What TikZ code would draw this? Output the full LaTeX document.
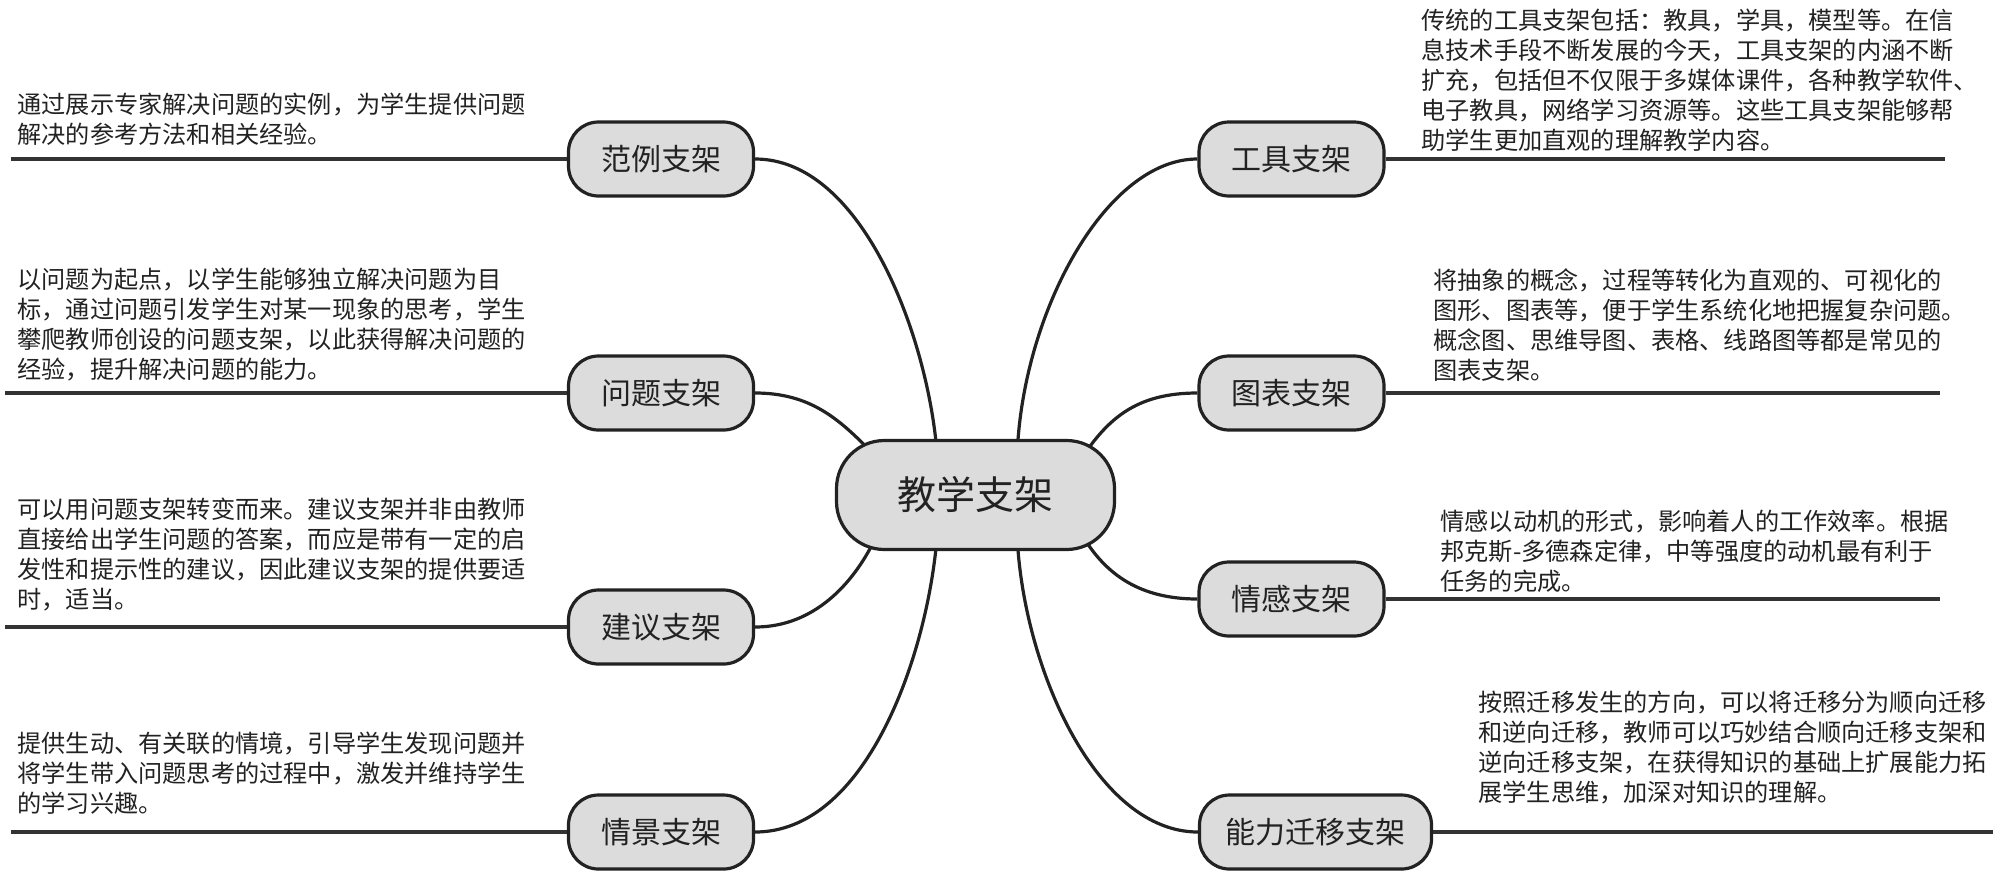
\documentclass[tikz,border=0pt]{standalone}
\usepackage{fontspec}
\setmainfont{Noto Sans CJK SC}
\usetikzlibrary{calc,backgrounds}
\definecolor{nodefill}{HTML}{DCDCDC}
\definecolor{ink}{HTML}{222222}
\begin{document}
\begin{tikzpicture}[x=0.5pt,y=-0.5pt,
  branch/.style={draw=ink, line width=1.6pt, fill=nodefill, rounded corners=15pt, minimum width=92.5pt, minimum height=37pt, inner sep=0pt, font=\fontsize{15}{18}\selectfont, text=ink},
  hub/.style={draw=ink, line width=1.6pt, fill=nodefill, rounded corners=24pt, minimum width=139pt, minimum height=54.5pt, inner sep=0pt, font=\fontsize{19.5}{23}\selectfont, text=ink},
  link/.style={draw=ink, line width=1.6pt},
  rule/.style={draw=black!80, line width=1.6pt},
  desc/.style={anchor=west, inner sep=0pt, align=left, font=\fontsize{12.1}{15}\selectfont, text=ink}]
\useasboundingbox (0,0) rectangle (2000,884);

% hub
\node[hub] (c) at (975.5,495) {教学支架};

% left branches
\node[branch] (fanli) at (661,159) {范例支架};
\node[branch] (wenti) at (661,393) {问题支架};
\node[branch] (jianyi) at (661,627) {建议支架};
\node[branch] (qingjing) at (661,832) {情景支架};

% right branches
\node[branch] (gongju) at (1291.5,159) {工具支架};
\node[branch] (tubiao) at (1291.5,393) {图表支架};
\node[branch] (qinggan) at (1291.5,599) {情感支架};
\node[branch, minimum width=116pt] (nengli) at (1315.5,832) {能力迁移支架};

% free ends of the rules
\coordinate (l1) at (11,159);
\coordinate (l2) at (5,393);
\coordinate (l3) at (5,627);
\coordinate (l4) at (11,832);
\coordinate (r1) at (1945,159);
\coordinate (r2) at (1940,393);
\coordinate (r3) at (1940,599);
\coordinate (r4) at (1993,832);

\begin{pgfonlayer}{background}
  \draw[rule] (l1) -- (fanli.west);
  \draw[rule] (l2) -- (wenti.west);
  \draw[rule] (l3) -- (jianyi.west);
  \draw[rule] (l4) -- (qingjing.west);
  \draw[rule] (gongju.east) -- (r1);
  \draw[rule] (tubiao.east) -- (r2);
  \draw[rule] (qinggan.east) -- (r3);
  \draw[rule] (nengli.east) -- (r4);

  \draw[link] (fanli.east) .. controls +(105,0) and +(-11,-117) .. ($(c.center)+(-39,-48)$);
  \draw[link] (wenti.east) .. controls +(55,0) and +(-30,-30) .. ($(c.center)+(-107,-46)$);
  \draw[link] (jianyi.east) .. controls +(60,0) and +(-20,40) .. ($(c.center)+(-102,47)$);
  \draw[link] (qingjing.east) .. controls +(110,0) and +(-11,117) .. ($(c.center)+(-39,48)$);
  \draw[link] (gongju.west) .. controls +(-90,0) and +(8,-140) .. ($(c.center)+(42,-48)$);
  \draw[link] (tubiao.west) .. controls +(-58,0) and +(25,-35) .. ($(c.center)+(111,-44)$);
  \draw[link] (qinggan.west) .. controls +(-58,0) and +(22,35) .. ($(c.center)+(109,44)$);
  \draw[link] (nengli.west) .. controls +(-100,0) and +(8,130) .. ($(c.center)+(42,48)$);
\end{pgfonlayer}

% descriptions
\node[desc] (d1) at (17,119) {通过展示专家解决问题的实例，为学生提供问题\\解决的参考方法和相关经验。};
\node[desc] (d2) at (17,325) {以问题为起点，以学生能够独立解决问题为目\\标，通过问题引发学生对某一现象的思考，学生\\攀爬教师创设的问题支架，以此获得解决问题的\\经验，提升解决问题的能力。};
\node[desc] (d3) at (17,555) {可以用问题支架转变而来。建议支架并非由教师\\直接给出学生问题的答案，而应是带有一定的启\\发性和提示性的建议，因此建议支架的提供要适\\时，适当。};
\node[desc] (d4) at (17,773) {提供生动、有关联的情境，引导学生发现问题并\\将学生带入问题思考的过程中，激发并维持学生\\的学习兴趣。};
\node[desc] (d5) at (1421,80) {传统的工具支架包括：教具，学具，模型等。在信\\息技术手段不断发展的今天，工具支架的内涵不断\\扩充，包括但不仅限于多媒体课件，各种教学软件、\\电子教具，网络学习资源等。这些工具支架能够帮\\助学生更加直观的理解教学内容。};
\node[desc] (d6) at (1433,325) {将抽象的概念，过程等转化为直观的、可视化的\\图形、图表等，便于学生系统化地把握复杂问题。\\概念图、思维导图、表格、线路图等都是常见的\\图表支架。};
\node[desc] (d7) at (1440,551) {情感以动机的形式，影响着人的工作效率。根据\\邦克斯-多德森定律，中等强度的动机最有利于\\任务的完成。};
\node[desc] (d8) at (1478,748) {按照迁移发生的方向，可以将迁移分为顺向迁移\\和逆向迁移，教师可以巧妙结合顺向迁移支架和\\逆向迁移支架，在获得知识的基础上扩展能力拓\\展学生思维，加深对知识的理解。};
\end{tikzpicture}
\end{document}
